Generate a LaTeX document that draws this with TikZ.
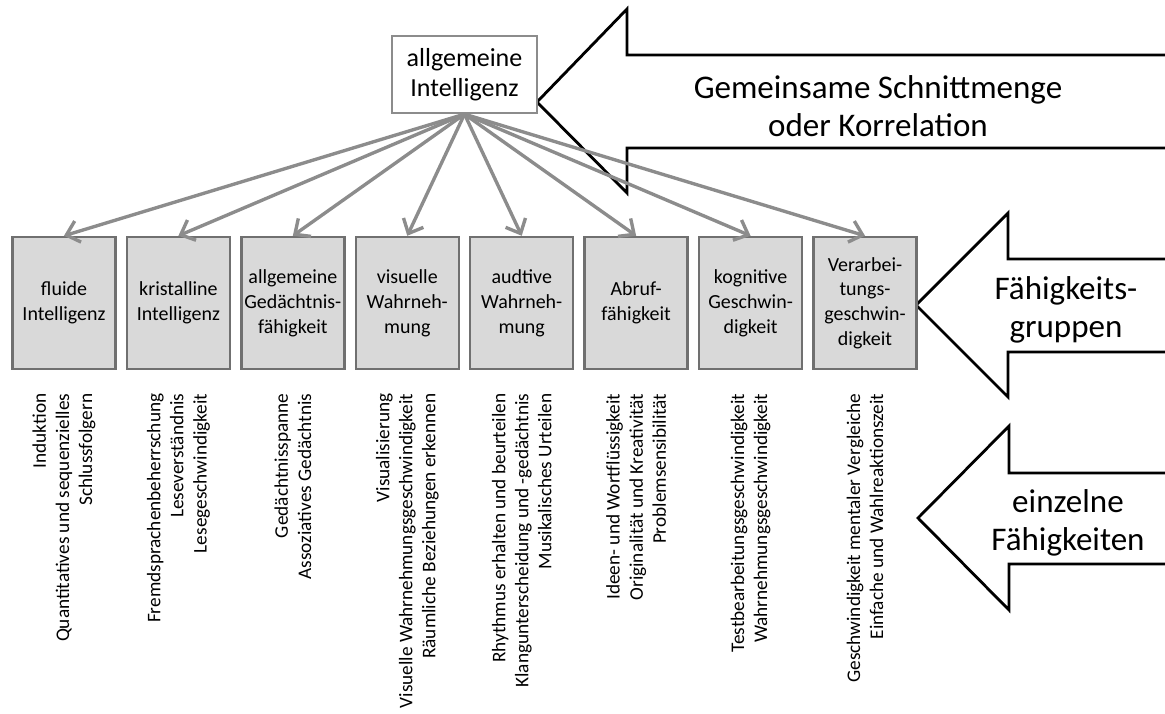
\documentclass[tikz,border=0pt]{standalone}
\usepackage{fontspec}
\setmainfont{Carlito}
\usetikzlibrary{arrows.meta}
\definecolor{boxgray}{RGB}{217,217,217}
\definecolor{framegray}{RGB}{112,112,112}
\definecolor{linkgray}{RGB}{140,140,140}

\begin{document}
\begin{tikzpicture}[
    x=0.025cm, y=-0.025cm,
    grow=down,
    level 1/.style={sibling distance=2.86cm, level distance=5.7125cm},
    parent anchor=south, child anchor=north,
    edge from parent/.style={draw=linkgray, line width=2.4pt, -{Straight Barb[length=3mm,width=5.5mm]}},
    rootbox/.style={draw=linkgray, fill=white, line width=1.6pt, minimum width=3.625cm, minimum height=1.925cm, align=center, font=\fontsize{18.5pt}{21.5pt}\selectfont},
    groupbox/.style={draw=framegray, fill=boxgray, line width=1.8pt, minimum width=2.575cm, minimum height=3.3cm, inner sep=1pt, align=center, font=\fontsize{14.2pt}{17.6pt}\selectfont},
    skilltext/.style={rotate=90, anchor=east, align=right, inner sep=0pt, font=\fontsize{13.7pt}{16.4pt}\selectfont},
    bigarrow/.style={draw=black, fill=white, line width=2pt, line join=miter},
    bigtext/.style={align=center, font=\fontsize{23.5pt}{27pt}\selectfont}
  ]
  \useasboundingbox (0,0) rectangle (1165,713);

  % Big arrows on the right
  \path[bigarrow] (1165,55) -- (627,55) -- (627,9) -- (537,102) -- (627,193) -- (627,148) -- (1165,148);
  \path[bigarrow] (1165,259) -- (1008,259) -- (1008,213) -- (916,305) -- (1008,397) -- (1008,352) -- (1165,352);
  \path[bigarrow] (1165,473) -- (1009,473) -- (1009,426) -- (918,518) -- (1009,610) -- (1009,564) -- (1165,564);
  \node[bigtext] (common) at (878,106) {Gemeinsame Schnittmenge\\oder Korrelation};
  \node[bigtext] (groups) at (1066,310) {Fähigkeits-\\gruppen};
  \node[bigtext] (single) at (1068,523) {einzelne\\Fähigkeiten};

  % Root node
  \node[rootbox] (gint) at (464.5,74.5) {allgemeine\\Intelligenz}
    child {node[groupbox] (fluid) {fluide\\Intelligenz}}
    child {node[groupbox] (crystal) {kristalline\\Intelligenz}}
    child {node[groupbox] (memory) {allgemeine\\Gedächtnis-\\fähigkeit}}
    child {node[groupbox] (visual) {visuelle\\Wahrneh-\\mung}}
    child {node[groupbox] (auditory) {audtive\\Wahrneh-\\mung}}
    child {node[groupbox] (retrieval) {Abruf-\\fähigkeit}}
    child {node[groupbox] (cogspeed) {kognitive\\Geschwin-\\digkeit}}
    child {node[groupbox] (procspeed) {Verarbei-\\tungs-\\geschwin-\\digkeit}};

  % Single abilities below each group
  \node[skilltext] (fluid-s) at ([yshift=-0.575cm]fluid.south) {Induktion\\Quantitatives und sequenzielles\\Schlussfolgern};
  \node[skilltext] (crystal-s) at ([yshift=-0.575cm]crystal.south) {Fremdsprachenbeherrschung\\Leseverständnis\\Lesegeschwindigkeit};
  \node[skilltext] (memory-s) at ([yshift=-0.575cm]memory.south) {Gedächtnisspanne\\Assoziatives Gedächtnis};
  \node[skilltext] (visual-s) at ([yshift=-0.575cm]visual.south) {Visualisierung\\Visuelle Wahrnehmungsgeschwindigkeit\\Räumliche Beziehungen erkennen};
  \node[skilltext] (auditory-s) at ([yshift=-0.575cm]auditory.south) {Rhythmus erhalten und beurteilen\\Klangunterscheidung und -gedächtnis\\Musikalisches Urteilen};
  \node[skilltext] (retrieval-s) at ([yshift=-0.575cm]retrieval.south) {Ideen- und Wortflüssigkeit\\Originalität und Kreativität\\Problemsensibilität};
  \node[skilltext] (cogspeed-s) at ([yshift=-0.575cm]cogspeed.south) {Testbearbeitungsgeschwindigkeit\\Wahrnehmungsgeschwindigkeit};
  \node[skilltext] (procspeed-s) at ([yshift=-0.575cm]procspeed.south) {Geschwindigkeit mentaler Vergleiche\\Einfache und Wahlreaktionszeit};

\end{tikzpicture}
\end{document}
